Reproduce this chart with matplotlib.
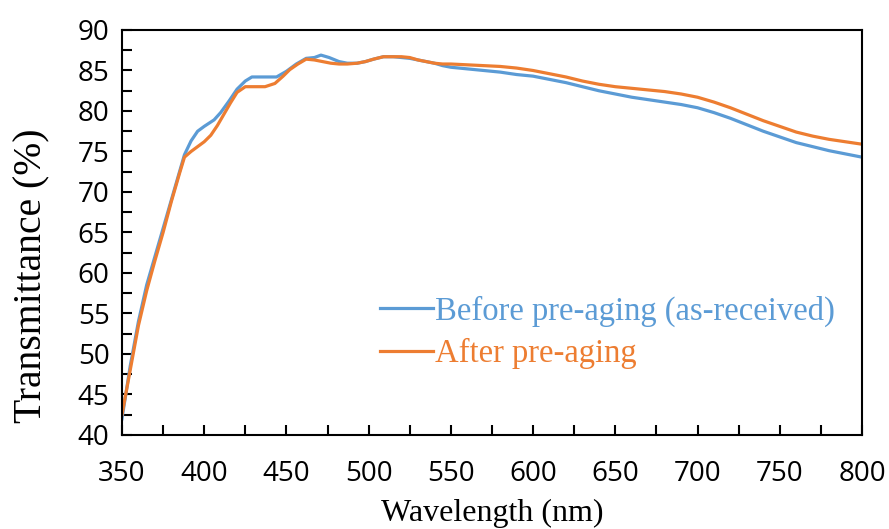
import matplotlib
matplotlib.use("Agg")
import matplotlib.pyplot as plt
from matplotlib.ticker import MultipleLocator

# Before pre-aging (as-received)
wl_before = [350, 355, 360, 365, 370, 375, 380, 385, 388, 392, 396, 400, 406, 410,
             415, 420, 425, 429, 435, 444, 450, 456, 462, 467, 471, 476, 482, 487,
             493, 498, 503, 509, 515, 520, 525, 530, 535, 540, 545, 550, 560, 570,
             580, 590, 600, 610, 620, 630, 640, 650, 660, 670, 680, 690, 700, 710,
             720, 730, 740, 750, 760, 770, 780, 790, 800]
tr_before = [42.0, 48.5, 54.0, 58.5, 62.0, 65.5, 69.0, 72.5, 74.6, 76.3, 77.5, 78.1,
             78.9, 79.8, 81.2, 82.7, 83.7, 84.2, 84.2, 84.2, 84.9, 85.8, 86.5, 86.6,
             86.9, 86.6, 86.1, 85.9, 85.9, 86.1, 86.4, 86.7, 86.7, 86.6, 86.5, 86.3,
             86.1, 85.9, 85.6, 85.4, 85.2, 85.0, 84.8, 84.5, 84.3, 83.9, 83.5, 83.0,
             82.5, 82.1, 81.7, 81.4, 81.1, 80.8, 80.4, 79.8, 79.1, 78.3, 77.5, 76.8,
             76.1, 75.6, 75.1, 74.7, 74.3]

# After pre-aging
wl_after = [350, 355, 360, 365, 370, 375, 380, 385, 388, 392, 396, 400, 404, 408,
            412, 416, 420, 425, 430, 437, 443, 448, 452, 457, 462, 467, 472, 477,
            482, 487, 493, 498, 503, 509, 515, 520, 525, 530, 535, 540, 545, 550,
            560, 570, 580, 590, 600, 610, 620, 630, 640, 650, 660, 670, 680, 690,
            700, 710, 720, 730, 740, 750, 760, 770, 780, 790, 800]
tr_after = [42.5, 48.0, 53.5, 57.8, 61.5, 65.0, 68.8, 72.3, 74.3, 75.0, 75.6, 76.2,
            77.0, 78.2, 79.6, 81.0, 82.3, 83.0, 83.0, 83.0, 83.4, 84.3, 85.1, 85.8,
            86.4, 86.3, 86.1, 85.9, 85.8, 85.8, 85.9, 86.1, 86.4, 86.7, 86.7, 86.7,
            86.6, 86.3, 86.1, 85.9, 85.8, 85.8, 85.7, 85.6, 85.5, 85.3, 85.0, 84.6,
            84.2, 83.7, 83.3, 83.0, 82.8, 82.6, 82.4, 82.1, 81.7, 81.1, 80.4, 79.6,
            78.8, 78.1, 77.4, 76.9, 76.5, 76.2, 75.9]

c_before = "#5B9BD5"
c_after = "#ED7D31"
serif = ["Liberation Serif", "DejaVu Serif"]

fig = plt.figure(figsize=(8.89, 5.29), dpi=100)
ax = fig.add_axes([0.1372, 0.1777, 0.8324, 0.7656])

ax.plot(wl_before, tr_before, color=c_before, lw=2.3, label="Before pre-aging (as-received)")
ax.plot(wl_after, tr_after, color=c_after, lw=2.3, label="After pre-aging")

ax.set_xlim(350, 800)
ax.set_ylim(40, 90)
ax.xaxis.set_major_locator(MultipleLocator(50))
ax.xaxis.set_minor_locator(MultipleLocator(25))
ax.yaxis.set_major_locator(MultipleLocator(5))
ax.yaxis.set_minor_locator(MultipleLocator(2.5))
ax.tick_params(which="both", direction="in", length=7, width=1.5, top=False, right=False)
ax.tick_params(axis="y", labelsize=20, pad=9)
ax.tick_params(axis="x", labelsize=20, pad=18)
for lab in ax.get_xticklabels() + ax.get_yticklabels():
    lab.set_family("Open Sans")
for sp in ax.spines.values():
    sp.set_linewidth(1.5)

ax.set_xlabel("Wavelength (nm)", family=serif, fontsize=23, labelpad=0)
ax.xaxis.set_label_coords(0.5, -0.158)
ax.set_ylabel("Transmittance (%)", family=serif, fontsize=28.5)
ax.yaxis.set_label_coords(-0.097, 0.393)

leg = ax.legend(loc="upper left", bbox_to_anchor=(0.349, 0.345), frameon=False,
                prop={"family": serif, "size": 23.5}, handlelength=1.63,
                handletextpad=0.05, labelspacing=0.36, borderpad=0, borderaxespad=0)
for txt, c in zip(leg.get_texts(), [c_before, c_after]):
    txt.set_color(c)

fig.savefig("out.png", dpi=100)
